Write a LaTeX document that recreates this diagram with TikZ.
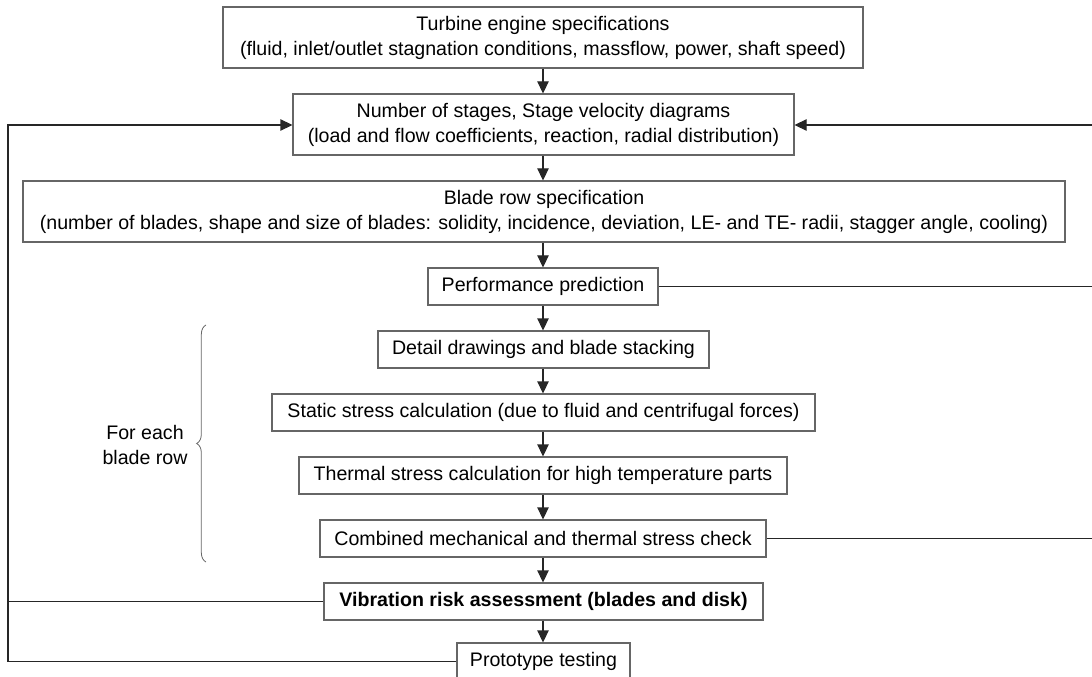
\documentclass[tikz,border=0pt]{standalone}
\usepackage{fontspec}
\setmainfont{Liberation Sans}
\usetikzlibrary{arrows.meta,decorations.pathreplacing}
\def\PX{0.75pt}
\tikzset{
  x=0.75pt, y=-0.75pt,
  txt/.style={font=\fontsize{14.7}{18.75}\selectfont},
  box/.style={txt, draw=black!60, line width=0.8pt, align=center, inner sep=0pt,
    minimum height=37*\PX},
  tall/.style={minimum height=61*\PX},
  link/.style={draw=black!85, line width=0.8pt},
  arr/.style={link, -{Triangle[length=9pt,width=8.5pt]}},
}
\begin{document}
\begin{tikzpicture}
\useasboundingbox (0,0) rectangle (1092,677);
\node[box,tall,minimum width=640*\PX] (b1) at (543,37.5) {Turbine engine specifications\\(fluid, inlet/outlet stagnation conditions, massflow, power, shaft speed)};
\node[box,tall,minimum width=501*\PX] (b2) at (543.5,124.5) {Number of stages, Stage velocity diagrams\\(load and flow coefficients, reaction, radial distribution)};
\node[box,tall,minimum width=1042*\PX] (b3) at (544,211.5) {Blade row specification\\(number of blades, shape and size of blades: solidity, incidence, deviation, LE- and TE- radii, stagger angle, cooling)};
\node[box,minimum width=230*\PX] (b4) at (543,286.5) {Performance prediction};
\node[box,minimum width=331*\PX] (b5) at (543.5,349.5) {Detail drawings and blade stacking};
\node[box,minimum width=543*\PX] (b6) at (543.5,412.5) {Static stress calculation (due to fluid and centrifugal forces)};
\node[box,minimum width=488*\PX] (b7) at (543,475.5) {Thermal stress calculation for high temperature parts};
\node[box,minimum width=446*\PX] (b8) at (543,538.5) {Combined mechanical and thermal stress check};
\node[box,minimum width=439*\PX] (b9) at (543.5,601.5) {\bfseries Vibration risk assessment (blades and disk)};
\node[box,minimum width=173*\PX] (b10) at (543.5,661.5) {Prototype testing};

\foreach \a/\b in {b1/b2,b2/b3,b3/b4,b4/b5,b5/b6,b6/b7,b7/b8,b8/b9,b9/b10}
  \draw[arr] (\a.south -| 543,0) -- (\b.north -| 543,0);

% left feedback loop
\coordinate (L) at (8,125);
\draw[arr] (b10.west) -| (L) -- (b2.west |- L);
\draw[link] (b9.west) -- (b9.west -| L);

% right feedback loop
\coordinate (R) at (1092,125);
\draw[arr] (R) -- (b2.east |- R);
\draw[link] (b4.east) -- (b4.east -| R);
\draw[link] (b8.east) -- (b8.east -| R);

% brace
\draw[draw=black!60, line width=0.6pt, decorate, decoration={brace, amplitude=7pt}] (206,562) -- (206,325);
\node[txt, align=center, inner sep=0pt] (fe) at (145,445) {For each\\ blade row};
\end{tikzpicture}
\end{document}
